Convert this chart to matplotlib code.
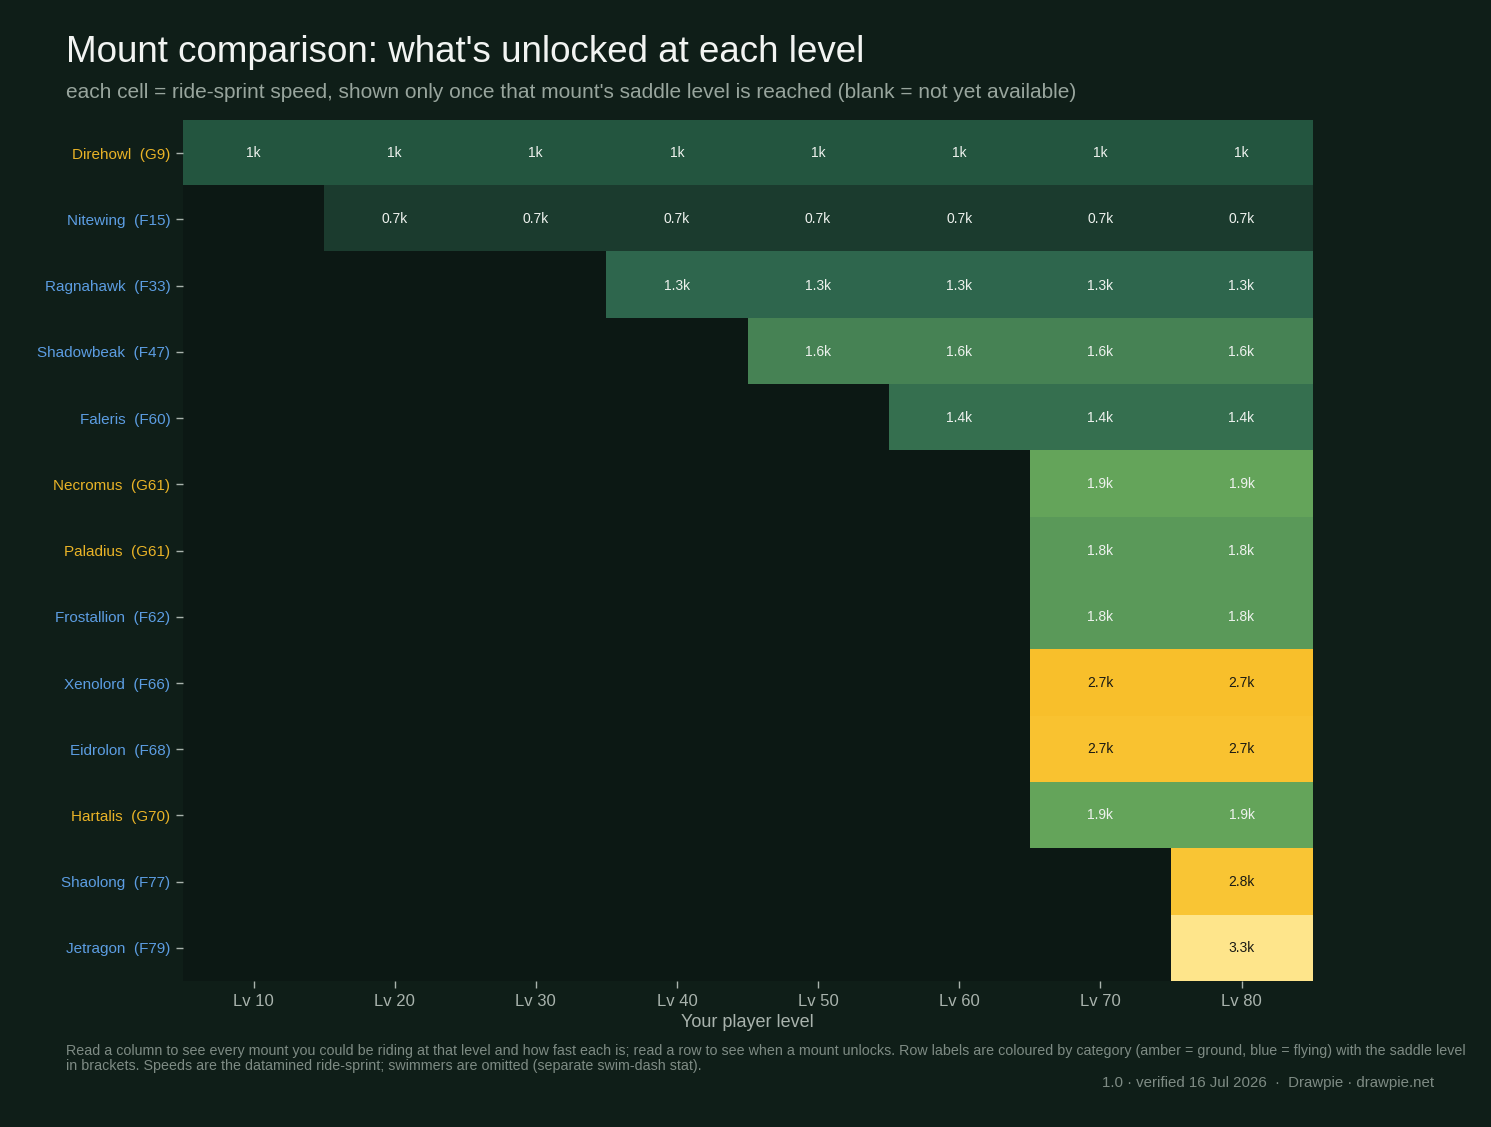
import numpy as np
import matplotlib
matplotlib.use("Agg")
import matplotlib.pyplot as plt
from matplotlib.colors import LinearSegmentedColormap

plt.rcParams['font.family'] = ['Liberation Sans', 'DejaVu Sans']

# mounts, top to bottom
mounts = ["Direhowl", "Nitewing", "Ragnahawk", "Shadowbeak", "Faleris", "Necromus",
          "Paladius", "Frostallion", "Xenolord", "Eidrolon", "Hartalis", "Shaolong", "Jetragon"]
category = ["G", "F", "F", "F", "F", "G", "G", "F", "F", "F", "G", "F", "F"]
saddleLevel = [9, 15, 33, 47, 60, 61, 61, 62, 66, 68, 70, 77, 79]
sprintSpeed = [1000, 700, 1300, 1600, 1400, 1900, 1800, 1800, 2680, 2740, 1900, 2780, 3300]
playerLevels = [10, 20, 30, 40, 50, 60, 70, 80]

figBg = "#0f1e18"
axBg = "#0c1814"
amber = "#e9b327"
blue = "#5c9de2"
mutedText = "#a9b3ad"

grid = np.full((len(mounts), len(playerLevels)), np.nan)
for i in range(len(mounts)):
    for j in range(len(playerLevels)):
        if saddleLevel[i] <= playerLevels[j]:
            grid[i, j] = sprintSpeed[i]

vmin, vmax = 700, 3300
anchors = [(700, "#1b3b2e"), (1000, "#245640"), (1300, "#2e664d"), (1600, "#478355"),
           (1900, "#64a45b"), (2680, "#f9c02b"), (2800, "#fac636"), (3300, "#fee58b")]
cmap = LinearSegmentedColormap.from_list(
    "mount", [((v - vmin) / (vmax - vmin), c) for v, c in anchors])
cmap.set_bad(axBg)

fig = plt.figure(figsize=(14.91, 11.27), dpi=100, facecolor=figBg)
ax = fig.add_axes([0.1227, 0.1295, 0.7573, 0.764])
ax.set_facecolor(axBg)

ax.imshow(np.ma.masked_invalid(grid), cmap=cmap, vmin=vmin, vmax=vmax,
          aspect='auto', interpolation='nearest')

for i in range(len(mounts)):
    for j in range(len(playerLevels)):
        v = grid[i, j]
        if np.isnan(v):
            continue
        txtColor = "#1a1a14" if v >= 2300 else "#eef2ee"
        ax.text(j, i, f"{v / 1000:.1f}k".replace(".0k", "k"), ha='center', va='center',
                fontsize=10, color=txtColor)

ax.tick_params(axis='both', colors=mutedText, length=5, width=1, pad=4)
ax.set_xticks(range(len(playerLevels)))
ax.set_xticklabels([f"Lv {lv}" for lv in playerLevels], fontsize=12, color=mutedText)
ax.set_yticks(range(len(mounts)))
ax.set_yticklabels([f"{m}  ({c}{lv})" for m, c, lv in zip(mounts, category, saddleLevel)],
                   fontsize=11)
for lbl, c in zip(ax.get_yticklabels(), category):
    lbl.set_color(amber if c == "G" else blue)
for s in ax.spines.values():
    s.set_visible(False)
ax.set_xlabel("Your player level", fontsize=13, color=mutedText, labelpad=4)

fig.text(66 / 1491, 1 - 52 / 1127, "Mount comparison: what's unlocked at each level",
         fontsize=26.5, color="#f2f4f2", ha='left', va='center')
fig.text(66 / 1491, 1 - 92 / 1127,
         "each cell = ride-sprint speed, shown only once that mount's saddle level is reached (blank = not yet available)",
         fontsize=15, color="#98a59d", ha='left', va='center')
fig.text(66 / 1491, 1 - 1044 / 1127,
         "Read a column to see every mount you could be riding at that level and how fast each is; read a row to see when a mount unlocks. "
         "Row labels are coloured by category (amber = ground, blue = flying) with the saddle level\n"
         "in brackets. Speeds are the datamined ride-sprint; swimmers are omitted (separate swim-dash stat).",
         fontsize=10.25, color="#7e8b84", ha='left', va='top', linespacing=1.12)
fig.text(1434 / 1491, 1 - 1083 / 1127, "1.0 · verified 16 Jul 2026  ·  Drawpie · drawpie.net",
         fontsize=10.8, color="#7e8b84", ha='right', va='center')

fig.savefig("out.png", dpi=100, facecolor=figBg)
